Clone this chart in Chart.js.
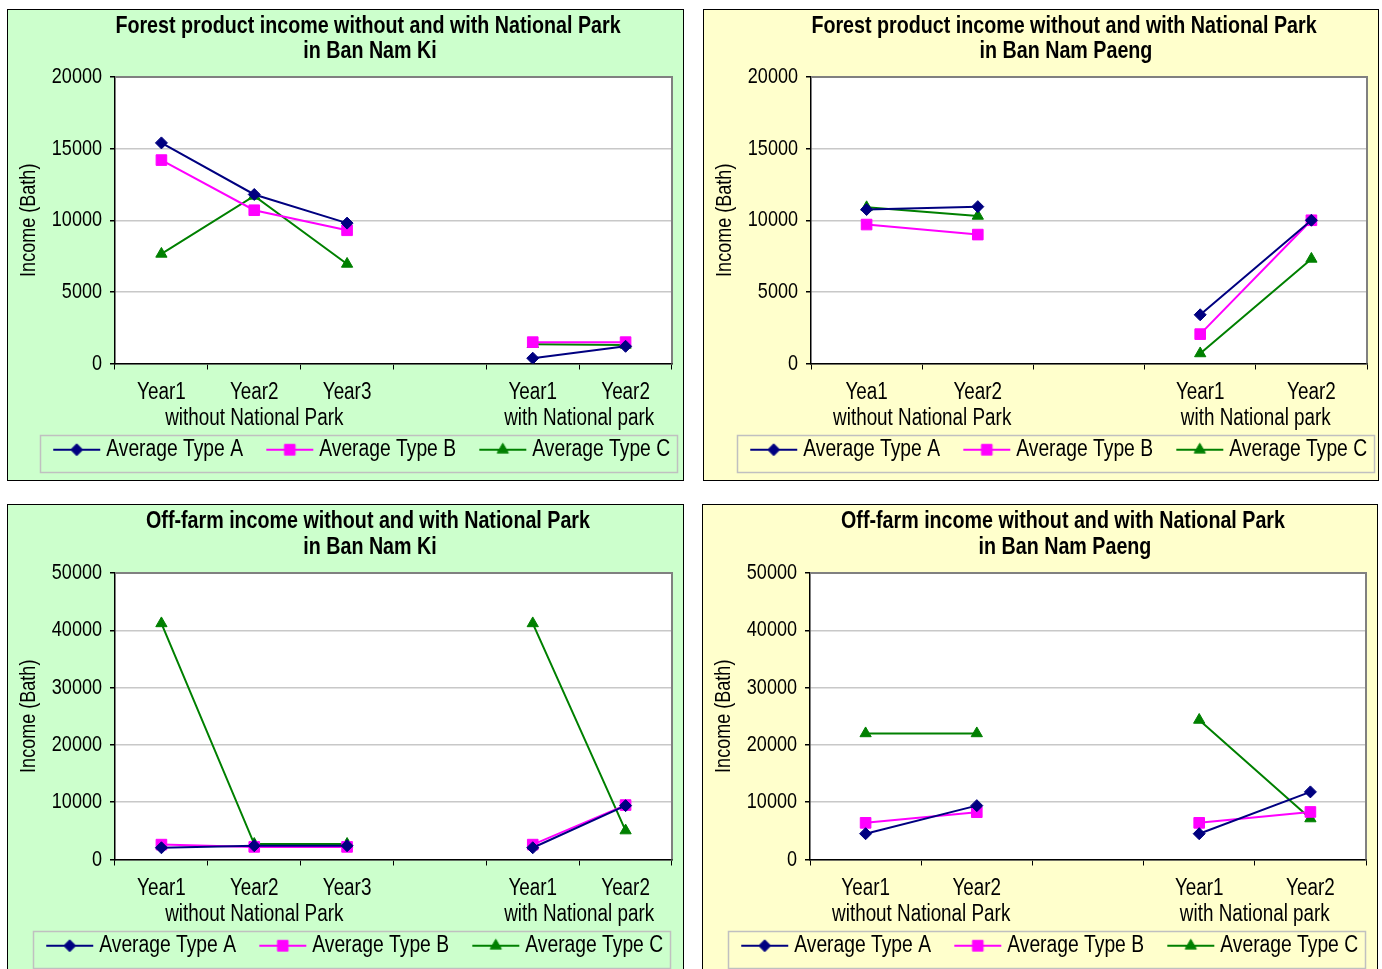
<!DOCTYPE html>
<html><head><meta charset="utf-8">
<script src="https://cdn.jsdelivr.net/npm/chart.js@4.4.0/dist/chart.umd.min.js"></script>
<style>
html,body{margin:0;padding:0;background:#fff;width:1382px;height:969px;overflow:hidden;position:relative}
.panel{position:absolute;border:1px solid #000;box-sizing:border-box;overflow:hidden}
.panel canvas{position:absolute;left:0;top:0}
</style></head><body>
<div class="panel" style="left:7px;top:9px;width:677px;height:472px;background:#ccffcc"><canvas id="c1" width="675" height="470"></canvas></div>
<div class="panel" style="left:703px;top:9px;width:676px;height:472px;background:#ffffcc"><canvas id="c2" width="674" height="470"></canvas></div>
<div class="panel" style="left:7px;top:504px;width:677px;height:472px;background:#ccffcc"><canvas id="c3" width="675" height="470"></canvas></div>
<div class="panel" style="left:702px;top:504px;width:676px;height:472px;background:#ffffcc"><canvas id="c4" width="674" height="470"></canvas></div>
<script>
// ---------- data ----------
const seriesNames = ['Average Type A', 'Average Type B', 'Average Type C'];
const groupLabels = ['without National Park', 'with National park'];

const catsKi = ['Year1', 'Year2', 'Year3', '', 'Year1', 'Year2'];
const groupSpansKi = [[0, 2], [4, 5]];
const catsPaengForest = ['Yea1', 'Year2', '', 'Year1', 'Year2'];
const catsPaengOff = ['Year1', 'Year2', '', 'Year1', 'Year2'];
const groupSpansPaeng = [[0, 1], [3, 4]];

const forestKiA = [15400, 11800, 9800, null, 370, 1200];
const forestKiB = [14200, 10700, 9300, null, 1490, 1490];
const forestKiC = [7650, 11700, 6950, null, 1350, 1300];

const forestPaengA = [10750, 10950, null, 3400, 10000];
const forestPaengB = [9700, 9000, null, 2050, 10000];
const forestPaengC = [10900, 10300, null, 700, 7300];

const offKiA = [2050, 2400, 2400, null, 2050, 9400];
const offKiB = [2600, 2200, 2200, null, 2600, 9500];
const offKiC = [41200, 2700, 2700, null, 41200, 5050];

const offPaengA = [4500, 9400, null, 4500, 11800];
const offPaengB = [6400, 8250, null, 6400, 8300];
const offPaengC = [22000, 22000, null, 24350, 7150];

const titlesForestKi = ['Forest product income without and with National Park', 'in Ban Nam Ki'];
const titlesForestPaeng = ['Forest product income without and with National Park', 'in Ban Nam Paeng'];
const titlesOffKi = ['Off-farm income without and with National Park', 'in Ban Nam Ki'];
const titlesOffPaeng = ['Off-farm income without and with National Park', 'in Ban Nam Paeng'];
const yTitle = 'Income (Bath)';

// ---------- style ----------
const F = '"Liberation Sans", Arial, sans-serif';
const colors = ['#000080', '#ff00ff', '#008000'];
const styles = ['rectRot', 'rect', 'triangle'];
const radii = [6, 7.5, 6.5];

// condensed text rendering (the reference uses a narrow sans face)
const K = 0.82;
(function(){
  const proto = CanvasRenderingContext2D.prototype;
  const om = proto.measureText, of = proto.fillText;
  proto.measureText = function(t) {
    const m = om.call(this, t);
    return {
      width: m.width * K,
      actualBoundingBoxAscent: m.actualBoundingBoxAscent,
      actualBoundingBoxDescent: m.actualBoundingBoxDescent,
      actualBoundingBoxLeft: m.actualBoundingBoxLeft * K,
      actualBoundingBoxRight: m.actualBoundingBoxRight * K,
      fontBoundingBoxAscent: m.fontBoundingBoxAscent,
      fontBoundingBoxDescent: m.fontBoundingBoxDescent
    };
  };
  proto.fillText = function(t, x, y, mw) {
    const w = om.call(this, t).width * K;
    const lim = (mw === undefined || mw === null) ? w : Math.min(w, mw);
    if (!(lim > 0)) return;
    return of.call(this, t, x, y, lim);
  };
})();

const PSW = 56.5;
function makeIcon(i) {
  const cv = document.createElement('canvas');
  cv.width = 72; cv.height = 18;
  const ctx = cv.getContext('2d');
  ctx.strokeStyle = colors[i]; ctx.lineWidth = 2;
  ctx.beginPath(); ctx.moveTo(23, 9); ctx.lineTo(70, 9); ctx.stroke();
  ctx.fillStyle = colors[i]; ctx.strokeStyle = colors[i]; ctx.lineWidth = 1;
  Chart.helpers.drawPoint(ctx, {pointStyle: styles[i], radius: radii[i], rotation: 0, borderWidth: 1}, 46.5, 9);
  return cv;
}
const icons = [0, 1, 2].map(makeIcon);

const panelPlugin = {
  id: 'panelDeco',
  afterLayout(chart) {
    const lg = chart.legend;
    const o = chart.options.plugins.panelDeco;
    lg.left = o.legendX - 8;
    lg.right = lg.left + 720;
  },
  beforeDraw(chart) {
    const {ctx, chartArea: a} = chart;
    ctx.save();
    ctx.fillStyle = '#ffffff';
    ctx.fillRect(a.left, a.top, a.right - a.left, a.bottom - a.top);
    ctx.restore();
  },
  beforeDatasetsDraw(chart) {
    const {ctx, chartArea: a} = chart;
    ctx.save();
    ctx.strokeStyle = '#808080'; ctx.lineWidth = 2;
    ctx.beginPath();
    ctx.moveTo(a.left, a.top); ctx.lineTo(a.right, a.top); ctx.lineTo(a.right, a.bottom);
    ctx.stroke();
    ctx.restore();
  },
  afterDraw(chart) {
    const {ctx, chartArea: a} = chart;
    const o = chart.options.plugins.panelDeco;
    const xs = chart.scales.x;
    ctx.save();
    ctx.fillStyle = '#000';
    ctx.textAlign = 'center'; ctx.textBaseline = 'middle';
    ctx.font = 'bold 24px ' + F;
    ctx.fillText(o.titles[0], 360, 16 + o.dy * 0.5);
    ctx.fillText(o.titles[1], 362, 41 + o.dy);
    ctx.font = '23px ' + F;
    o.spans.forEach((s, k) => {
      const x = (xs.getPixelForValue(s[0]) + xs.getPixelForValue(s[1])) / 2;
      ctx.fillText(groupLabels[k], x, a.bottom + 55);
    });
    // legend frame
    const lg = chart.legend;
    const hb = lg.legendHitBoxes;
    if (hb && hb.length) {
      const l = hb[0].left + 2, r = hb[hb.length - 1].left + hb[hb.length - 1].width + 7;
      ctx.strokeStyle = '#c0c0c0'; ctx.lineWidth = 1.5;
      ctx.strokeRect(Math.round(l) + 0.5, Math.round(lg.top + 5) + 0.5, Math.round(r - l), 37);
    }
    ctx.restore();
  }
};

function build(id, cats, spans, data, titles, ymax, ystep, legendX, dy) {
  const datasets = data.map((d, i) => ({
    label: seriesNames[i],
    data: d,
    borderColor: colors[i],
    backgroundColor: colors[i],
    pointBackgroundColor: colors[i],
    pointBorderColor: colors[i],
    pointStyle: styles[i],
    pointRadius: radii[i],
    pointBorderWidth: 1,
    borderWidth: 2,
    tension: 0,
    spanGaps: false
  }));
  return new Chart(document.getElementById(id), {
    type: 'line',
    data: {labels: cats, datasets},
    options: {
      responsive: false,
      animation: false,
      devicePixelRatio: 1,
      layout: {padding: {left: 0, right: 11, top: 67 + dy, bottom: 8.5 - dy}},
      plugins: {
        title: {display: false},
        tooltip: {enabled: false},
        legend: {
          position: 'bottom',
          align: 'start',
          labels: {
            font: {family: F, size: 23.5},
            color: '#000',
            usePointStyle: true,
            pointStyleWidth: PSW,
            padding: 8,
            generateLabels(chart) {
              return chart.data.datasets.map((ds, i) => ({
                text: ds.label, pointStyle: icons[i], fillStyle: colors[i],
                strokeStyle: colors[i], lineWidth: 0, hidden: false, datasetIndex: i, fontColor: '#000'
              }));
            }
          }
        },
        panelDeco: {titles, spans, legendX, dy}
      },
      scales: {
        x: {
          offset: true,
          grid: {offset: true, drawOnChartArea: false, drawTicks: true, tickLength: 6, color: '#000', lineWidth: 1},
          border: {color: '#000', width: 1.5},
          ticks: {font: {family: F, size: 23}, color: '#000', padding: 9, maxRotation: 0, autoSkip: false},
          afterFit(s) { s.height = 66.5; }
        },
        y: {
          min: 0, max: ymax,
          ticks: {stepSize: ystep, font: {family: F, size: 22}, color: '#000', padding: 8, callback: v => String(v)},
          grid: {color: '#c8c8c8', lineWidth: 1.5, tickColor: '#000', tickLength: 5},
          border: {color: '#000', width: 1.5},
          title: {display: true, text: yTitle, font: {family: F, size: 22}, color: '#000', padding: {top: 8, bottom: 0}},
          afterFit(s) { s.width = 107; }
        }
      }
    },
    plugins: [panelPlugin]
  });
}

build('c1', catsKi, groupSpansKi, [forestKiA, forestKiB, forestKiC], titlesForestKi, 20000, 5000, 30, 0);
build('c2', catsPaengForest, groupSpansPaeng, [forestPaengA, forestPaengB, forestPaengC], titlesForestPaeng, 20000, 5000, 31, 0);
build('c3', catsKi, groupSpansKi, [offKiA, offKiB, offKiC], titlesOffKi, 50000, 10000, 23, 1);
build('c4', catsPaengOff, groupSpansPaeng, [offPaengA, offPaengB, offPaengC], titlesOffPaeng, 50000, 10000, 23, 1);
</script>
</body></html>
